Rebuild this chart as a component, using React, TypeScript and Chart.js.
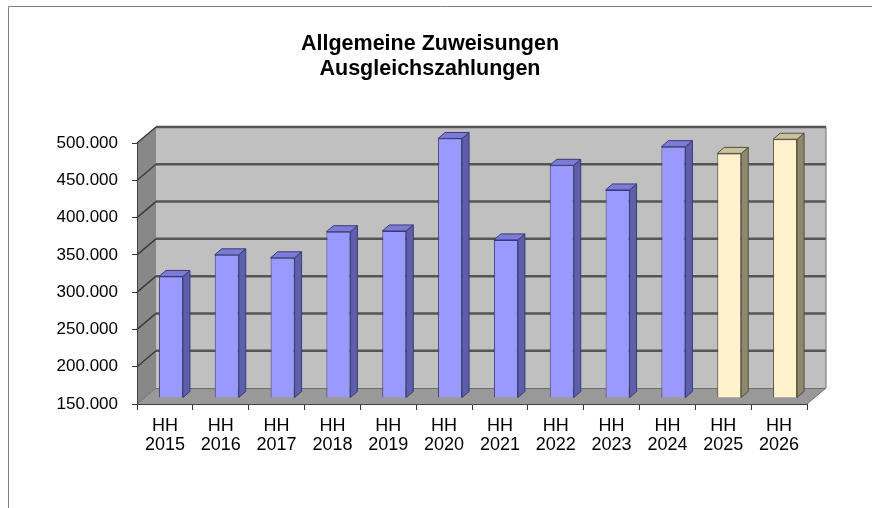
import React, { useEffect, useRef } from 'react';
import { Chart, registerables } from 'chart.js';

Chart.register(...registerables);

// ---- data ----
const titleLines = ['Allgemeine Zuweisungen', 'Ausgleichszahlungen'];
const labelPrefix = 'HH';
const years = ['2015', '2016', '2017', '2018', '2019', '2020', '2021', '2022', '2023', '2024', '2025', '2026'];
const values = [313000, 342000, 338000, 373000, 374000, 498000, 362000, 462000, 429000, 487000, 478000, 497000];
const status = ['Ist', 'Ist', 'Ist', 'Ist', 'Ist', 'Ist', 'Ist', 'Ist', 'Ist', 'Ist', 'Plan', 'Plan'];
const yMin = 150000;
const yMax = 500000;
const yStep = 50000;

// ---- styles ----
const FONT = '"Liberation Sans", Arial, sans-serif';
const WALL_DX = 19;
const WALL_DY = -16;
const BAR_OFF_X = 6;
const BAR_OFF_Y = -6;
const BAR_DEPTH_X = 7;
const BAR_DEPTH_Y = -6;

const colors = {
  Ist: { front: '#9999ff', side: '#5e5eaa', top: '#7c7cd8', edge: '#3a3a78' },
  Plan: { front: '#fff2cc', side: '#8e8870', top: '#cbc29e', edge: '#55503c' },
};

function formatDE(v: number): string {
  const s = String(Math.round(v));
  return s.replace(/\B(?=(\d{3})+(?!\d))/g, '.');
}

function poly(ctx: CanvasRenderingContext2D, pts: number[][], fill: string, stroke?: string) {
  ctx.beginPath();
  ctx.moveTo(pts[0][0], pts[0][1]);
  for (let i = 1; i < pts.length; i++) ctx.lineTo(pts[i][0], pts[i][1]);
  ctx.closePath();
  ctx.fillStyle = fill;
  ctx.fill();
  if (stroke) {
    ctx.strokeStyle = stroke;
    ctx.lineWidth = 1;
    ctx.stroke();
  }
}

const threeD = {
  id: 'threeD',
  beforeDraw(chart: any) {
    const { ctx, chartArea: a, scales } = chart;
    const ys = scales.y;
    const L = a.left, R = a.right, T = a.top, B = a.bottom;
    ctx.save();
    ctx.fillStyle = '#ffffff';
    ctx.fillRect(0, 0, chart.width, chart.height);
    // frame
    ctx.strokeStyle = '#808080';
    ctx.lineWidth = 1;
    ctx.beginPath();
    ctx.moveTo(8.5, chart.height);
    ctx.lineTo(8.5, 6.5);
    ctx.lineTo(chart.width, 6.5);
    ctx.stroke();
    // title
    ctx.fillStyle = '#000';
    ctx.font = 'bold 21.5px ' + FONT;
    ctx.textAlign = 'center';
    ctx.textBaseline = 'middle';
    titleLines.forEach((t, i) => ctx.fillText(t, 430, 44 + i * 25));
    // back wall
    ctx.fillStyle = '#c0c0c0';
    ctx.fillRect(L + WALL_DX, T + WALL_DY, R - L, B - T);
    // side wall
    poly(ctx, [[L, T], [L + WALL_DX, T + WALL_DY], [L + WALL_DX, B + WALL_DY], [L, B]], '#888888');
    // floor
    poly(ctx, [[L, B], [L + WALL_DX, B + WALL_DY], [R + WALL_DX, B + WALL_DY], [R, B]], '#999999');
    // gridlines
    ys.ticks.forEach((t: any) => {
      const py = ys.getPixelForValue(t.value);
      if (t.value === yMin) return;
      ctx.strokeStyle = '#555555';
      ctx.lineWidth = 2.5;
      ctx.beginPath();
      ctx.moveTo(L + WALL_DX, py + WALL_DY);
      ctx.lineTo(R + WALL_DX, py + WALL_DY);
      ctx.stroke();
      ctx.strokeStyle = '#3c3c3c';
      ctx.lineWidth = 1.5;
      ctx.beginPath();
      ctx.moveTo(L, py);
      ctx.lineTo(L + WALL_DX, py + WALL_DY);
      ctx.stroke();
    });
    // floor back edge
    ctx.strokeStyle = '#707070';
    ctx.lineWidth = 1;
    ctx.beginPath();
    ctx.moveTo(L + WALL_DX, B + WALL_DY + 0.5);
    ctx.lineTo(R + WALL_DX, B + WALL_DY + 0.5);
    ctx.stroke();
    ctx.beginPath();
    ctx.moveTo(L, B);
    ctx.lineTo(L + WALL_DX, B + WALL_DY);
    ctx.stroke();
    // floor right edge
    ctx.beginPath();
    ctx.moveTo(R, B);
    ctx.lineTo(R + WALL_DX, B + WALL_DY);
    ctx.lineTo(R + WALL_DX, T + WALL_DY);
    ctx.stroke();
    ctx.restore();
  },
  beforeDatasetsDraw(chart: any) {
    chart.ctx.save();
    chart.ctx.translate(BAR_OFF_X, BAR_OFF_Y);
  },
  afterDatasetsDraw(chart: any) {
    const ctx = chart.ctx;
    ctx.restore();
    const meta = chart.getDatasetMeta(0);
    meta.data.forEach((el: any, i: number) => {
      const p = el.getProps(['x', 'y', 'base', 'width'], true);
      const c = (colors as any)[status[i]];
      const x0 = p.x - p.width / 2 + BAR_OFF_X;
      const x1 = p.x + p.width / 2 + BAR_OFF_X;
      const yt = p.y + BAR_OFF_Y;
      const yb = Math.min(p.base, chart.chartArea.bottom) + BAR_OFF_Y;
      ctx.save();
      poly(ctx, [[x1, yt], [x1 + BAR_DEPTH_X, yt + BAR_DEPTH_Y], [x1 + BAR_DEPTH_X, yb + BAR_DEPTH_Y], [x1, yb]], c.side, c.edge);
      poly(ctx, [[x0, yt], [x0 + BAR_DEPTH_X, yt + BAR_DEPTH_Y], [x1 + BAR_DEPTH_X, yt + BAR_DEPTH_Y], [x1, yt]], c.top, c.edge);
      ctx.restore();
    });
  },
};

export default function App() {
  const ref = useRef<HTMLCanvasElement | null>(null);
  useEffect(() => {
    if (!ref.current) return;
    const chart = new Chart(ref.current, {
      type: 'bar',
      data: {
        labels: years.map((y) => [labelPrefix, y]),
        datasets: [
          {
            data: values,
            base: yMin,
            backgroundColor: status.map((s) => (colors as any)[s].front),
            borderColor: status.map((s) => (colors as any)[s].edge),
            borderWidth: 1,
            barPercentage: 0.43,
            categoryPercentage: 1,
          } as any,
        ],
      },
      options: {
        responsive: false,
        animation: false,
        layout: { padding: { top: 143, right: 65, bottom: 0, left: 0 } },
        plugins: { legend: { display: false }, title: { display: false }, tooltip: { enabled: false } },
        scales: {
          x: {
            afterFit: (s: any) => { s.height = 104; },
            grid: { drawOnChartArea: false, tickLength: 6, color: '#333', offset: true },
            border: { display: true, color: '#404040', width: 1 },
            ticks: {
              maxRotation: 0,
              autoSkip: false,
              padding: 7,
              color: '#000',
              font: { family: FONT, size: 18, lineHeight: '19px' },
            },
          },
          y: {
            min: yMin,
            max: yMax,
            afterFit: (s: any) => { s.width = 137; },
            grid: { drawOnChartArea: false, tickLength: 5, color: '#333' },
            border: { display: true, color: '#404040', width: 1 },
            ticks: {
              stepSize: yStep,
              padding: 14,
              color: '#000',
              font: { family: FONT, size: 17 },
              callback: (v: any) => formatDE(Number(v)),
            },
          },
        },
      },
      plugins: [threeD],
    });
    return () => chart.destroy();
  }, []);
  return (
    <div style={{ position: 'absolute', left: 0, top: 0, width: 872, height: 508 }}>
      <canvas ref={ref} width={872} height={508} />
    </div>
  );
}
